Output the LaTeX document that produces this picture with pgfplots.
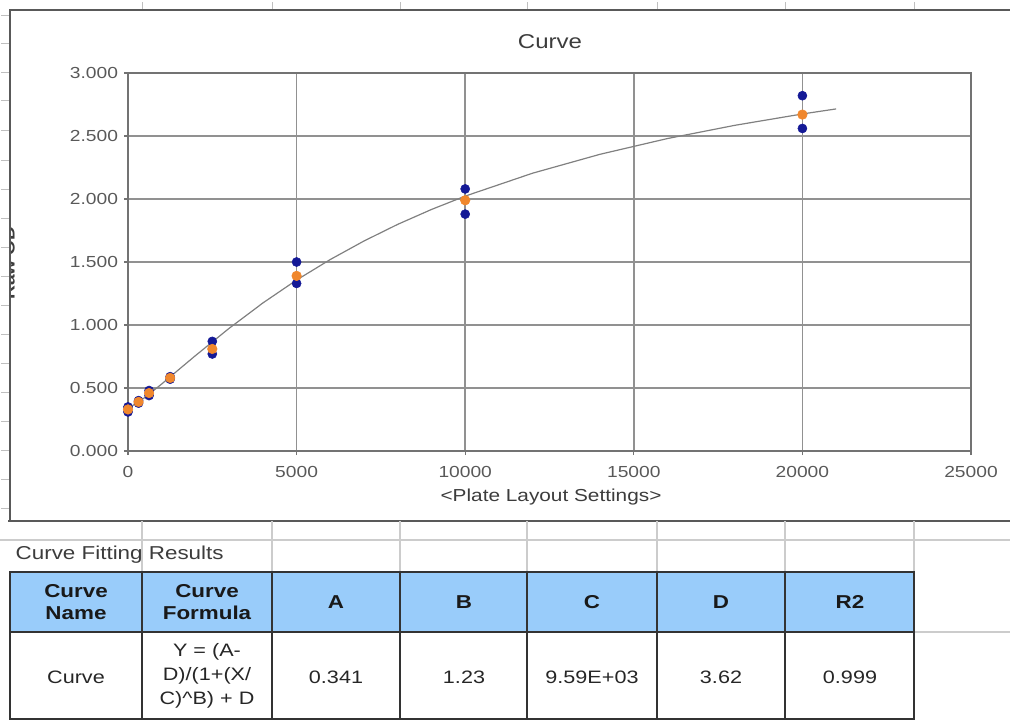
\documentclass[border=0pt]{standalone}
\usepackage{fontspec}
\setmainfont{Liberation Sans}
\newfontfamily\wsans[FakeStretch=1.2]{Liberation Sans}
\usepackage{pgfplots}
\usepackage{pgfplotstable}
\pgfplotsset{compat=1.18}
\definecolor{ptblue}{RGB}{20,25,150}
\definecolor{ptorange}{RGB}{240,135,45}
\definecolor{hdrblue}{RGB}{153,204,250}
\definecolor{gridgray}{RGB}{145,145,145}
\definecolor{axgray}{RGB}{115,115,115}
\definecolor{txt}{RGB}{60,60,60}

\pgfplotstableread{
x y
0 0.31
0 0.35
312.5 0.38
312.5 0.40
625 0.44
625 0.48
1250 0.57
1250 0.59
2500 0.77
2500 0.87
5000 1.33
5000 1.50
10000 1.88
10000 2.08
20000 2.56
20000 2.82
}\replicates

\pgfplotstableread{
x y
0 0.33
312.5 0.39
625 0.46
1250 0.58
2500 0.81
5000 1.39
10000 1.99
20000 2.67
}\means

\pgfplotstableread{
x y
0 0.341
250 0.378
500 0.425
1000 0.532
1500 0.645
2000 0.757
3000 0.974
4000 1.175
5000 1.357
6000 1.520
7000 1.667
8000 1.799
9000 1.917
10000 2.023
12000 2.205
14000 2.355
16000 2.480
18000 2.585
20000 2.675
21000 2.715
}\fitcurve

\begin{document}
\begin{tikzpicture}
\useasboundingbox (0pt,0pt) rectangle (757.5pt,-541.5pt);
\begin{scope}[x=0.75pt,y=-0.75pt]
% faint spreadsheet markers
\foreach \xx in {142,272,400,527,657,785,914} \draw[black!25, line width=0.75pt] (\xx,2) -- (\xx,10);
% y label (cut by frame)
\node[rotate=90, font=\wsans\bfseries\fontsize{12}{14}\selectfont, text=txt] at (9,263) {Raw OD};
\fill[white] (0,150) rectangle (9.5,380);
\foreach \yy in {15,43,72,100,130,160,189,218,247,276,305,334,363,392,421,450,479,508} \draw[black!25, line width=0.75pt] (1,\yy) -- (9,\yy);
% chart frame
\draw[black!65, line width=1.5pt] (10,521) -- (10,10) -- (1012,10);
\draw[black!65, line width=1.5pt] (8,521) -- (1012,521);
% title
\node[font=\wsans\fontsize{15}{18}\selectfont, text=txt] at (550,42) {Curve};
% x label
\node[font=\wsans\fontsize{13}{16}\selectfont, text=txt] at (551,497) {<Plate Layout Settings>};
% spreadsheet grid below chart
\draw[black!20, line width=1pt] (0,540) -- (1010,540);
\draw[black!20, line width=1pt] (914,632) -- (1010,632);
\foreach \xx in {142,272,400,527,657,785,914} \draw[black!20, line width=1pt] (\xx,521) -- (\xx,572);
\draw[black!20, line width=1pt] (914,521) -- (914,720);
% table
\node[anchor=west, font=\wsans\fontsize{14}{17}\selectfont, text=txt] at (11,555) {Curve Fitting Results};
\fill[hdrblue] (10,572) rectangle (914,632);
\draw[black!80, line width=1.2pt] (10,572) rectangle (914,719);
\draw[black!80, line width=1.2pt] (10,632) -- (914,632);
\foreach \xx in {142,272,400,527,657,785} \draw[black!80, line width=1.2pt] (\xx,572) -- (\xx,719);
\begin{scope}[every node/.style={align=center, font=\wsans\bfseries\fontsize{14}{16}\selectfont, text=black!90}]
\node at (76,602) {Curve\\Name};
\node at (207,602) {Curve\\Formula};
\node at (336,602) {A};
\node at (464,602) {B};
\node at (592,602) {C};
\node at (721,602) {D};
\node at (850,602) {R2};
\end{scope}
\begin{scope}[every node/.style={align=center, font=\wsans\fontsize{13.5}{18}\selectfont, text=black!85}]
\node at (76,677) {Curve};
\node at (207,676) {Y = (A-\\D)/(1+(X/\\C)\^{}B) + D};
\node at (336,677) {0.341};
\node at (464,677) {1.23};
\node at (592,677) {9.59E+03};
\node at (721,677) {3.62};
\node at (850,677) {0.999};
\end{scope}
\end{scope}

\begin{axis}[
  at={(96pt,-338.25pt)}, anchor=south west,
  scale only axis, width=632.25pt, height=283.5pt,
  xmin=0, xmax=25000, ymin=0, ymax=3,
  xtick={0,5000,10000,15000,20000,25000},
  ytick={0,0.5,1,1.5,2,2.5,3},
  scaled x ticks=false, scaled y ticks=false,
  grid=major,
  major grid style={gridgray, line width=1.2pt},
  axis line style={axgray, line width=1.5pt},
  tick pos=left, tick align=outside,
  major tick length=3pt,
  tick style={axgray, line width=1pt},
  /pgf/number format/assume math mode=true,
  x tick label style={/pgf/number format/1000 sep={}, font=\wsans\fontsize{12}{14}\selectfont, text=black!65},
  y tick label style={/pgf/number format/fixed, /pgf/number format/fixed zerofill, /pgf/number format/precision=3, font=\wsans\fontsize{12}{14}\selectfont, text=black!65},
  xticklabel style={yshift=-5pt},
  yticklabel style={xshift=-1pt},
  clip=false,
]
\addplot[no marks, black!50, line width=0.9pt] table {\fitcurve};
\addplot[only marks, mark=*, mark size=3.4pt, ptblue, mark options={draw=ptblue, fill=ptblue}] table {\replicates};
\addplot[only marks, mark=*, mark size=3.6pt, ptorange, mark options={draw=ptorange, fill=ptorange}] table {\means};
\end{axis}
\end{tikzpicture}
\end{document}
